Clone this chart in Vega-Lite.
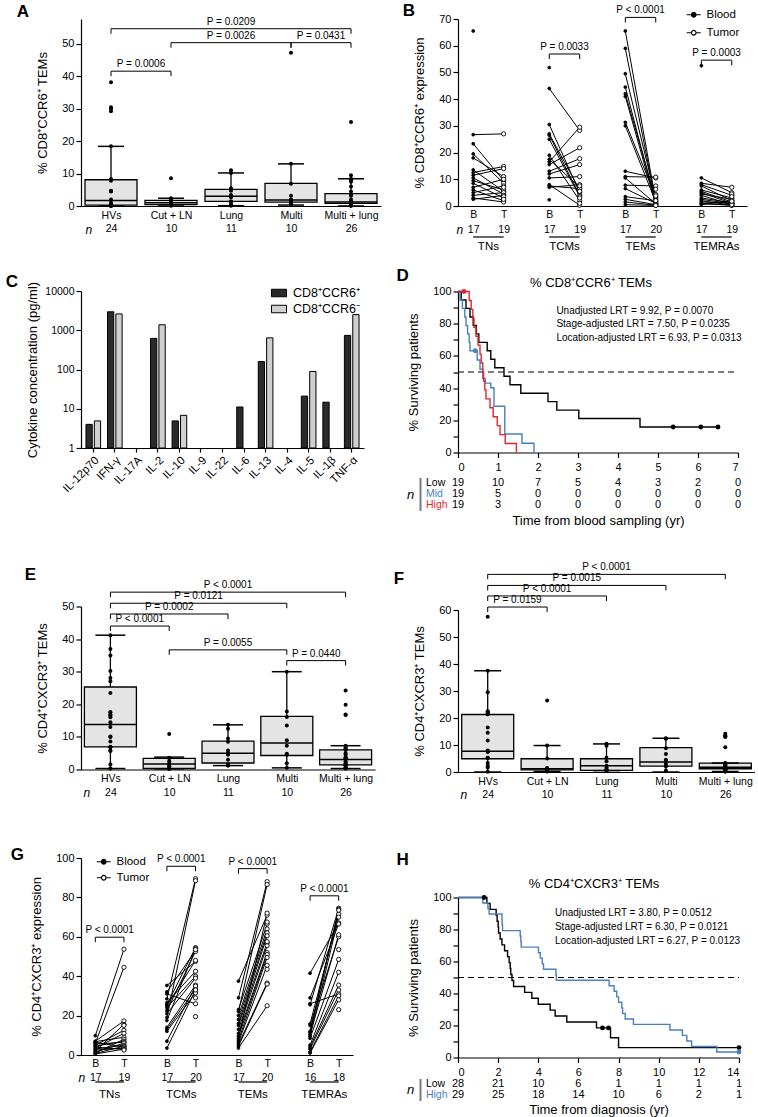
{
"$schema":"https://vega.github.io/schema/vega-lite/v6.json",
"background":"white",
"padding":{"left":5,"top":1,"right":0,"bottom":0},
"config":{
 "font":"Liberation Sans",
 "view":{"stroke":null},
 "axis":{"labelFont":"Liberation Sans","titleFont":"Liberation Sans","labelFontSize":11,"titleFontSize":13,"titleFontWeight":"normal","labelColor":"black","titleColor":"black","domainColor":"black","tickColor":"black","domainWidth":1.2,"tickWidth":1.2,"tickSize":5,"grid":false,"labelPadding":2,"titlePadding":12,"labelOverlap":false},
 "title":{"font":"Liberation Sans","fontSize":17,"fontWeight":"bold","anchor":"start","frame":"bounds","color":"black"},
 "legend":{"labelFont":"Liberation Sans","labelFontSize":11.5,"labelColor":"black"},
 "text":{"font":"Liberation Sans","color":"black"}
},
"datasets":{
 "A_box":[
  {"g":"HVs","lo":0,"q1":0.3,"med":1.7,"q3":8.1,"hi":18.4},
  {"g":"Cut + LN","lo":0,"q1":0.4,"med":1.0,"q3":1.75,"hi":2.4},
  {"g":"Lung","lo":0.1,"q1":1.4,"med":3.0,"q3":5.1,"hi":10.2},
  {"g":"Multi","lo":0.3,"q1":1.2,"med":1.85,"q3":7.0,"hi":13.0},
  {"g":"Multi + lung","lo":0,"q1":0.8,"med":1.2,"q3":3.8,"hi":8.4}],
 "A_pts":[
  {"g":"HVs","v":38.2},{"g":"HVs","v":30.5},{"g":"HVs","v":30.0},{"g":"HVs","v":29.2},{"g":"HVs","v":18.4},{"g":"HVs","v":8.3},{"g":"HVs","v":7.8},{"g":"HVs","v":4.7},{"g":"HVs","v":4.6},{"g":"HVs","v":4.5},{"g":"HVs","v":2.0},{"g":"HVs","v":1.0},{"g":"HVs","v":0.8},{"g":"HVs","v":0.6},{"g":"HVs","v":0.5},{"g":"HVs","v":0.5},{"g":"HVs","v":0.4},{"g":"HVs","v":0.3},{"g":"HVs","v":0.3},{"g":"HVs","v":0.2},{"g":"HVs","v":0.2},{"g":"HVs","v":0.1},{"g":"HVs","v":0.1},{"g":"HVs","v":0},
  {"g":"Cut + LN","v":8.6},{"g":"Cut + LN","v":2.4},{"g":"Cut + LN","v":2.0},{"g":"Cut + LN","v":1.5},{"g":"Cut + LN","v":1.2},{"g":"Cut + LN","v":0.8},{"g":"Cut + LN","v":0.5},{"g":"Cut + LN","v":0.3},{"g":"Cut + LN","v":0.2},{"g":"Cut + LN","v":0.1},
  {"g":"Lung","v":11.0},{"g":"Lung","v":10.2},{"g":"Lung","v":5.5},{"g":"Lung","v":4.7},{"g":"Lung","v":3.4},{"g":"Lung","v":2.7},{"g":"Lung","v":1.5},{"g":"Lung","v":1.2},{"g":"Lung","v":0.5},{"g":"Lung","v":0.3},{"g":"Lung","v":0.1},
  {"g":"Multi","v":47.3},{"g":"Multi","v":13.0},{"g":"Multi","v":6.9},{"g":"Multi","v":3.2},{"g":"Multi","v":2.0},{"g":"Multi","v":1.8},{"g":"Multi","v":1.5},{"g":"Multi","v":1.0},{"g":"Multi","v":0.8},{"g":"Multi","v":0.3},
  {"g":"Multi + lung","v":25.9},{"g":"Multi + lung","v":9.5},{"g":"Multi + lung","v":8.4},{"g":"Multi + lung","v":8.0},{"g":"Multi + lung","v":7.5},{"g":"Multi + lung","v":6.0},{"g":"Multi + lung","v":4.5},{"g":"Multi + lung","v":3.5},{"g":"Multi + lung","v":3.2},{"g":"Multi + lung","v":2.0},{"g":"Multi + lung","v":1.5},{"g":"Multi + lung","v":1.2},{"g":"Multi + lung","v":1.0},{"g":"Multi + lung","v":0.9},{"g":"Multi + lung","v":0.8},{"g":"Multi + lung","v":0.7},{"g":"Multi + lung","v":0.6},{"g":"Multi + lung","v":0.5},{"g":"Multi + lung","v":0.5},{"g":"Multi + lung","v":0.4},{"g":"Multi + lung","v":0.3},{"g":"Multi + lung","v":0.3},{"g":"Multi + lung","v":0.2},{"g":"Multi + lung","v":0.2},{"g":"Multi + lung","v":0.1},{"g":"Multi + lung","v":0.1}],
 "A_br":[
  {"from":"HVs","to":"Multi + lung","mid":"Lung","level":54.7,"label":"P = 0.0209"},
  {"from":"Cut + LN","to":"Multi","mid":"Lung","level":50.4,"label":"P = 0.0026"},
  {"from":"Multi","to":"Multi + lung","mid":"m4","level":50.4,"label":"P = 0.0431"},
  {"from":"HVs","to":"Cut + LN","mid":"m1","level":41.6,"label":"P = 0.0006"}],
 "E_box":[
  {"g":"HVs","lo":0.3,"q1":6.95,"med":13.8,"q3":25.3,"hi":41.2},
  {"g":"Cut + LN","lo":0.2,"q1":0.3,"med":1.7,"q3":3.4,"hi":3.8},
  {"g":"Lung","lo":1.2,"q1":2.0,"med":5.0,"q3":8.7,"hi":13.7},
  {"g":"Multi","lo":0.5,"q1":4.3,"med":8.1,"q3":16.3,"hi":30.0},
  {"g":"Multi + lung","lo":0.3,"q1":1.4,"med":3.1,"q3":6.0,"hi":7.3}],
 "E_pts":[
  {"g":"HVs","v":41.2},{"g":"HVs","v":37.0},{"g":"HVs","v":35.0},{"g":"HVs","v":30.2},{"g":"HVs","v":28.1},{"g":"HVs","v":27.1},{"g":"HVs","v":23.5},{"g":"HVs","v":17.6},{"g":"HVs","v":17.4},{"g":"HVs","v":16.8},{"g":"HVs","v":16.6},{"g":"HVs","v":16.0},{"g":"HVs","v":14.5},{"g":"HVs","v":13.0},{"g":"HVs","v":10.1},{"g":"HVs","v":10.0},{"g":"HVs","v":8.6},{"g":"HVs","v":7.0},{"g":"HVs","v":6.9},{"g":"HVs","v":6.8},{"g":"HVs","v":5.8},{"g":"HVs","v":5.7},{"g":"HVs","v":1.5},{"g":"HVs","v":0.3},
  {"g":"Cut + LN","v":10.9},{"g":"Cut + LN","v":3.6},{"g":"Cut + LN","v":3.5},{"g":"Cut + LN","v":2.5},{"g":"Cut + LN","v":1.8},{"g":"Cut + LN","v":1.5},{"g":"Cut + LN","v":1.0},{"g":"Cut + LN","v":0.3},{"g":"Cut + LN","v":0.3},{"g":"Cut + LN","v":0.2},
  {"g":"Lung","v":13.7},{"g":"Lung","v":12.5},{"g":"Lung","v":9.5},{"g":"Lung","v":8.5},{"g":"Lung","v":5.8},{"g":"Lung","v":5.0},{"g":"Lung","v":4.5},{"g":"Lung","v":3.0},{"g":"Lung","v":1.5},{"g":"Lung","v":1.2},{"g":"Lung","v":1.2},
  {"g":"Multi","v":30.0},{"g":"Multi","v":17.8},{"g":"Multi","v":16.1},{"g":"Multi","v":13.5},{"g":"Multi","v":9.0},{"g":"Multi","v":7.3},{"g":"Multi","v":4.8},{"g":"Multi","v":4.5},{"g":"Multi","v":1.9},{"g":"Multi","v":0.5},
  {"g":"Multi + lung","v":24.2},{"g":"Multi + lung","v":19.9},{"g":"Multi + lung","v":16.9},{"g":"Multi + lung","v":16.7},{"g":"Multi + lung","v":7.3},{"g":"Multi + lung","v":6.9},{"g":"Multi + lung","v":6.5},{"g":"Multi + lung","v":6.2},{"g":"Multi + lung","v":6.0},{"g":"Multi + lung","v":5.0},{"g":"Multi + lung","v":4.5},{"g":"Multi + lung","v":3.8},{"g":"Multi + lung","v":3.6},{"g":"Multi + lung","v":3.5},{"g":"Multi + lung","v":3.3},{"g":"Multi + lung","v":2.5},{"g":"Multi + lung","v":2.0},{"g":"Multi + lung","v":1.7},{"g":"Multi + lung","v":1.5},{"g":"Multi + lung","v":1.4},{"g":"Multi + lung","v":1.3},{"g":"Multi + lung","v":1.2},{"g":"Multi + lung","v":0.8},{"g":"Multi + lung","v":0.5},{"g":"Multi + lung","v":0.4},{"g":"Multi + lung","v":0.3}],
 "E_br":[
  {"from":"HVs","to":"Multi + lung","mid":"Lung","level":54.4,"label":"P < 0.0001"},
  {"from":"HVs","to":"Multi","mid":"m2","level":51.0,"label":"P = 0.0121"},
  {"from":"HVs","to":"Lung","mid":"Cut + LN","level":47.7,"label":"P = 0.0002"},
  {"from":"HVs","to":"Cut + LN","mid":"m1","level":44.0,"label":"P < 0.0001"},
  {"from":"Cut + LN","to":"Multi","mid":"Lung","level":36.7,"label":"P = 0.0055"},
  {"from":"Multi","to":"Multi + lung","mid":"m4","level":33.4,"label":"P = 0.0440"}],
 "F_box":[
  {"g":"HVs","lo":0,"q1":4.9,"med":7.7,"q3":21.3,"hi":37.5},
  {"g":"Cut + LN","lo":0.2,"q1":0.8,"med":1.2,"q3":4.9,"hi":9.8},
  {"g":"Lung","lo":0.5,"q1":0.6,"med":2.3,"q3":4.9,"hi":10.4},
  {"g":"Multi","lo":0,"q1":2.2,"med":3.7,"q3":9.0,"hi":12.5},
  {"g":"Multi + lung","lo":0.2,"q1":1.2,"med":1.8,"q3":3.3,"hi":3.3}],
 "F_pts":[
  {"g":"HVs","v":57.5},{"g":"HVs","v":37.5},{"g":"HVs","v":29.5},{"g":"HVs","v":22.5},{"g":"HVs","v":22.3},{"g":"HVs","v":22.0},{"g":"HVs","v":21.5},{"g":"HVs","v":21.5},{"g":"HVs","v":21.5},{"g":"HVs","v":21.4},{"g":"HVs","v":16.5},{"g":"HVs","v":14.5},{"g":"HVs","v":11.7},{"g":"HVs","v":8.0},{"g":"HVs","v":7.8},{"g":"HVs","v":7.5},{"g":"HVs","v":7.5},{"g":"HVs","v":5.3},{"g":"HVs","v":5.2},{"g":"HVs","v":5.2},{"g":"HVs","v":3.3},{"g":"HVs","v":2.3},{"g":"HVs","v":1.7},{"g":"HVs","v":0.1},
  {"g":"Cut + LN","v":26.5},{"g":"Cut + LN","v":9.8},{"g":"Cut + LN","v":5.0},{"g":"Cut + LN","v":1.5},{"g":"Cut + LN","v":1.3},{"g":"Cut + LN","v":1.2},{"g":"Cut + LN","v":0.8},{"g":"Cut + LN","v":0.5},{"g":"Cut + LN","v":0.3},{"g":"Cut + LN","v":0.2},
  {"g":"Lung","v":10.5},{"g":"Lung","v":9.7},{"g":"Lung","v":5.3},{"g":"Lung","v":4.0},{"g":"Lung","v":2.3},{"g":"Lung","v":1.7},{"g":"Lung","v":1.0},{"g":"Lung","v":0.8},{"g":"Lung","v":0.6},{"g":"Lung","v":0.5},{"g":"Lung","v":0.5},
  {"g":"Multi","v":12.5},{"g":"Multi","v":12.3},{"g":"Multi","v":8.8},{"g":"Multi","v":6.7},{"g":"Multi","v":4.5},{"g":"Multi","v":4.2},{"g":"Multi","v":3.0},{"g":"Multi","v":2.0},{"g":"Multi","v":0.5},{"g":"Multi","v":0.3},
  {"g":"Multi + lung","v":14.2},{"g":"Multi + lung","v":13.5},{"g":"Multi + lung","v":13.2},{"g":"Multi + lung","v":13.0},{"g":"Multi + lung","v":9.2},{"g":"Multi + lung","v":3.3},{"g":"Multi + lung","v":3.2},{"g":"Multi + lung","v":3.0},{"g":"Multi + lung","v":2.8},{"g":"Multi + lung","v":2.5},{"g":"Multi + lung","v":2.0},{"g":"Multi + lung","v":1.8},{"g":"Multi + lung","v":1.5},{"g":"Multi + lung","v":1.5},{"g":"Multi + lung","v":1.2},{"g":"Multi + lung","v":1.0},{"g":"Multi + lung","v":1.0},{"g":"Multi + lung","v":0.8},{"g":"Multi + lung","v":0.8},{"g":"Multi + lung","v":0.7},{"g":"Multi + lung","v":0.5},{"g":"Multi + lung","v":0.5},{"g":"Multi + lung","v":0.3},{"g":"Multi + lung","v":0.3},{"g":"Multi + lung","v":0.2},{"g":"Multi + lung","v":0.2}],
 "F_br":[
  {"from":"HVs","to":"Multi + lung","mid":"Lung","level":73.2,"label":"P < 0.0001"},
  {"from":"HVs","to":"Multi","mid":"m2","level":69.1,"label":"P = 0.0015"},
  {"from":"HVs","to":"Lung","mid":"Cut + LN","level":65.2,"label":"P < 0.0001"},
  {"from":"HVs","to":"Cut + LN","mid":"m1","level":61.1,"label":"P = 0.0159"}],
 "PAIR_grp":[
  {"b":"TNs B","m":"TNs m","t":"TNs T","name":"TNs"},
  {"b":"TCMs B","m":"TCMs m","t":"TCMs T","name":"TCMs"},
  {"b":"TEMs B","m":"TEMs m","t":"TEMs T","name":"TEMs"},
  {"b":"TEMRAs B","m":"TEMRAs m","t":"TEMRAs T","name":"TEMRAs"}],
 "B_br":[
  {"from":"TCMs B","to":"TCMs T","mid":"TCMs m","level":56.9,"label":"P = 0.0033"},
  {"from":"TEMs B","to":"TEMs T","mid":"TEMs m","level":70.6,"label":"P < 0.0001"},
  {"from":"TEMRAs B","to":"TEMRAs T","mid":"TEMRAs m","level":54.6,"label":"P = 0.0003"}],
 "G_br":[
  {"from":"TNs B","to":"TNs T","mid":"TNs m","level":59.8,"label":"P < 0.0001"},
  {"from":"TCMs B","to":"TCMs T","mid":"TCMs m","level":95.8,"label":"P < 0.0001"},
  {"from":"TEMs B","to":"TEMs T","mid":"TEMs m","level":94.6,"label":"P < 0.0001"},
  {"from":"TEMRAs B","to":"TEMRAs T","mid":"TEMRAs m","level":80.8,"label":"P < 0.0001"}],
 "B_pts":[
  {"k":"TNs B","s":"Blood","p":"n1","v":26.7},{"k":"TNs T","s":"Tumor","p":"n1","v":27},
  {"k":"TNs B","s":"Blood","p":"n2","v":23.3},{"k":"TNs T","s":"Tumor","p":"n2","v":9.5},
  {"k":"TNs B","s":"Blood","p":"n3","v":19.5},{"k":"TNs T","s":"Tumor","p":"n3","v":8.5},
  {"k":"TNs B","s":"Blood","p":"n4","v":18},{"k":"TNs T","s":"Tumor","p":"n4","v":11},
  {"k":"TNs B","s":"Blood","p":"n5","v":13.5},{"k":"TNs T","s":"Tumor","p":"n5","v":5.5},
  {"k":"TNs B","s":"Blood","p":"n6","v":12.5},{"k":"TNs T","s":"Tumor","p":"n6","v":14.8},
  {"k":"TNs B","s":"Blood","p":"n7","v":11.5},{"k":"TNs T","s":"Tumor","p":"n7","v":14},
  {"k":"TNs B","s":"Blood","p":"n8","v":10.5},{"k":"TNs T","s":"Tumor","p":"n8","v":4.5},
  {"k":"TNs B","s":"Blood","p":"n9","v":9.5},{"k":"TNs T","s":"Tumor","p":"n9","v":6},
  {"k":"TNs B","s":"Blood","p":"n10","v":8.5},{"k":"TNs T","s":"Tumor","p":"n10","v":3},
  {"k":"TNs B","s":"Blood","p":"n11","v":7},{"k":"TNs T","s":"Tumor","p":"n11","v":10},
  {"k":"TNs B","s":"Blood","p":"n12","v":6},{"k":"TNs T","s":"Tumor","p":"n12","v":2},
  {"k":"TNs B","s":"Blood","p":"n13","v":5},{"k":"TNs T","s":"Tumor","p":"n13","v":7.5},
  {"k":"TNs B","s":"Blood","p":"n14","v":4},{"k":"TNs T","s":"Tumor","p":"n14","v":5},
  {"k":"TNs B","s":"Blood","p":"n15","v":3},{"k":"TNs T","s":"Tumor","p":"n15","v":1.5},
  {"k":"TNs B","s":"Blood","p":"n16","v":2.5},{"k":"TNs T","s":"Tumor","p":"n16","v":4},
  {"k":"TNs B","s":"Blood","p":"n17","v":65.5},{"k":"TNs T","s":"Tumor","p":"n18","v":7},{"k":"TNs T","s":"Tumor","p":"n19","v":3.5},{"k":"TNs T","s":"Tumor","p":"n20","v":2.5},
  {"k":"TCMs B","s":"Blood","p":"c1","v":44},{"k":"TCMs T","s":"Tumor","p":"c1","v":28.3},
  {"k":"TCMs B","s":"Blood","p":"c2","v":30.5},{"k":"TCMs T","s":"Tumor","p":"c2","v":5},
  {"k":"TCMs B","s":"Blood","p":"c3","v":27},{"k":"TCMs T","s":"Tumor","p":"c3","v":6},
  {"k":"TCMs B","s":"Blood","p":"c4","v":26.5},{"k":"TCMs T","s":"Tumor","p":"c4","v":4},
  {"k":"TCMs B","s":"Blood","p":"c5","v":25},{"k":"TCMs T","s":"Tumor","p":"c5","v":3.5},
  {"k":"TCMs B","s":"Blood","p":"c6","v":19},{"k":"TCMs T","s":"Tumor","p":"c6","v":2},
  {"k":"TCMs B","s":"Blood","p":"c7","v":17.5},{"k":"TCMs T","s":"Tumor","p":"c7","v":7},
  {"k":"TCMs B","s":"Blood","p":"c8","v":16.5},{"k":"TCMs T","s":"Tumor","p":"c8","v":29.5},
  {"k":"TCMs B","s":"Blood","p":"c9","v":15.5},{"k":"TCMs T","s":"Tumor","p":"c9","v":21.8},
  {"k":"TCMs B","s":"Blood","p":"c10","v":13},{"k":"TCMs T","s":"Tumor","p":"c10","v":17.7},
  {"k":"TCMs B","s":"Blood","p":"c11","v":12},{"k":"TCMs T","s":"Tumor","p":"c11","v":15.5},
  {"k":"TCMs B","s":"Blood","p":"c12","v":10.5},{"k":"TCMs T","s":"Tumor","p":"c12","v":11},
  {"k":"TCMs B","s":"Blood","p":"c13","v":8},{"k":"TCMs T","s":"Tumor","p":"c13","v":0.3},
  {"k":"TCMs B","s":"Blood","p":"c14","v":7.5},{"k":"TCMs T","s":"Tumor","p":"c14","v":6.5},
  {"k":"TCMs B","s":"Blood","p":"c15","v":7},{"k":"TCMs T","s":"Tumor","p":"c15","v":8},
  {"k":"TCMs B","s":"Blood","p":"c16","v":51.8},{"k":"TCMs B","s":"Blood","p":"c17","v":2.3},{"k":"TCMs T","s":"Tumor","p":"c18","v":7.5},{"k":"TCMs T","s":"Tumor","p":"c19","v":5.5},{"k":"TCMs T","s":"Tumor","p":"c20","v":3},{"k":"TCMs T","s":"Tumor","p":"c21","v":1},
  {"k":"TEMs B","s":"Blood","p":"e1","v":65.5},{"k":"TEMs T","s":"Tumor","p":"e1","v":2},
  {"k":"TEMs B","s":"Blood","p":"e2","v":59},{"k":"TEMs T","s":"Tumor","p":"e2","v":1.5},
  {"k":"TEMs B","s":"Blood","p":"e3","v":49.5},{"k":"TEMs T","s":"Tumor","p":"e3","v":3},
  {"k":"TEMs B","s":"Blood","p":"e4","v":44.5},{"k":"TEMs T","s":"Tumor","p":"e4","v":1},
  {"k":"TEMs B","s":"Blood","p":"e5","v":42},{"k":"TEMs T","s":"Tumor","p":"e5","v":2.5},
  {"k":"TEMs B","s":"Blood","p":"e6","v":41},{"k":"TEMs T","s":"Tumor","p":"e6","v":0.5},
  {"k":"TEMs B","s":"Blood","p":"e7","v":31.3},{"k":"TEMs T","s":"Tumor","p":"e7","v":3.5},
  {"k":"TEMs B","s":"Blood","p":"e8","v":30},{"k":"TEMs T","s":"Tumor","p":"e8","v":1.5},
  {"k":"TEMs B","s":"Blood","p":"e9","v":13},{"k":"TEMs T","s":"Tumor","p":"e9","v":10.5},
  {"k":"TEMs B","s":"Blood","p":"e10","v":11},{"k":"TEMs T","s":"Tumor","p":"e10","v":10.8},
  {"k":"TEMs B","s":"Blood","p":"e11","v":10.5},{"k":"TEMs T","s":"Tumor","p":"e11","v":0.8},
  {"k":"TEMs B","s":"Blood","p":"e12","v":7.8},{"k":"TEMs T","s":"Tumor","p":"e12","v":7.5},
  {"k":"TEMs B","s":"Blood","p":"e13","v":6.5},{"k":"TEMs T","s":"Tumor","p":"e13","v":1},
  {"k":"TEMs B","s":"Blood","p":"e14","v":3.5},{"k":"TEMs T","s":"Tumor","p":"e14","v":2},
  {"k":"TEMs B","s":"Blood","p":"e15","v":2.5},{"k":"TEMs T","s":"Tumor","p":"e15","v":0.5},
  {"k":"TEMs B","s":"Blood","p":"e16","v":1.5},{"k":"TEMs T","s":"Tumor","p":"e16","v":0.3},
  {"k":"TEMs B","s":"Blood","p":"e17","v":0.5},{"k":"TEMs T","s":"Tumor","p":"e17","v":0.2},
  {"k":"TEMs T","s":"Tumor","p":"e18","v":6.3},{"k":"TEMs T","s":"Tumor","p":"e19","v":4.3},{"k":"TEMs T","s":"Tumor","p":"e20","v":3.8},
  {"k":"TEMRAs B","s":"Blood","p":"r1","v":10.5},{"k":"TEMRAs T","s":"Tumor","p":"r1","v":5},
  {"k":"TEMRAs B","s":"Blood","p":"r2","v":8.5},{"k":"TEMRAs T","s":"Tumor","p":"r2","v":7},
  {"k":"TEMRAs B","s":"Blood","p":"r3","v":8},{"k":"TEMRAs T","s":"Tumor","p":"r3","v":4},
  {"k":"TEMRAs B","s":"Blood","p":"r4","v":7.5},{"k":"TEMRAs T","s":"Tumor","p":"r4","v":2},
  {"k":"TEMRAs B","s":"Blood","p":"r5","v":6},{"k":"TEMRAs T","s":"Tumor","p":"r5","v":3},
  {"k":"TEMRAs B","s":"Blood","p":"r6","v":5.5},{"k":"TEMRAs T","s":"Tumor","p":"r6","v":1.5},
  {"k":"TEMRAs B","s":"Blood","p":"r7","v":5},{"k":"TEMRAs T","s":"Tumor","p":"r7","v":1},
  {"k":"TEMRAs B","s":"Blood","p":"r8","v":4.5},{"k":"TEMRAs T","s":"Tumor","p":"r8","v":2.5},
  {"k":"TEMRAs B","s":"Blood","p":"r9","v":4},{"k":"TEMRAs T","s":"Tumor","p":"r9","v":0.5},
  {"k":"TEMRAs B","s":"Blood","p":"r10","v":3},{"k":"TEMRAs T","s":"Tumor","p":"r10","v":1.2},
  {"k":"TEMRAs B","s":"Blood","p":"r11","v":2.5},{"k":"TEMRAs T","s":"Tumor","p":"r11","v":0.8},
  {"k":"TEMRAs B","s":"Blood","p":"r12","v":2},{"k":"TEMRAs T","s":"Tumor","p":"r12","v":0.3},
  {"k":"TEMRAs B","s":"Blood","p":"r13","v":1.5},{"k":"TEMRAs T","s":"Tumor","p":"r13","v":1},
  {"k":"TEMRAs B","s":"Blood","p":"r14","v":1},{"k":"TEMRAs T","s":"Tumor","p":"r14","v":0.2},
  {"k":"TEMRAs B","s":"Blood","p":"r15","v":0.8},{"k":"TEMRAs T","s":"Tumor","p":"r15","v":0.5},
  {"k":"TEMRAs B","s":"Blood","p":"r16","v":0.5},{"k":"TEMRAs T","s":"Tumor","p":"r16","v":2},
  {"k":"TEMRAs B","s":"Blood","p":"r17","v":52.5},{"k":"TEMRAs T","s":"Tumor","p":"r18","v":4.5},{"k":"TEMRAs T","s":"Tumor","p":"r19","v":3.5},{"k":"TEMRAs T","s":"Tumor","p":"r20","v":1.8}],
 "G_pts":[
  {"k":"TNs B","s":"Blood","p":"n1","v":9.8},{"k":"TNs T","s":"Tumor","p":"n1","v":53.7},
  {"k":"TNs B","s":"Blood","p":"n2","v":6.0},{"k":"TNs T","s":"Tumor","p":"n2","v":44.5},
  {"k":"TNs B","s":"Blood","p":"n3","v":7.0},{"k":"TNs T","s":"Tumor","p":"n3","v":17.3},
  {"k":"TNs B","s":"Blood","p":"n4","v":2.0},{"k":"TNs T","s":"Tumor","p":"n4","v":15.5},
  {"k":"TNs B","s":"Blood","p":"n5","v":5.0},{"k":"TNs T","s":"Tumor","p":"n5","v":12.5},
  {"k":"TNs B","s":"Blood","p":"n6","v":3.5},{"k":"TNs T","s":"Tumor","p":"n6","v":11.0},
  {"k":"TNs B","s":"Blood","p":"n7","v":6.8},{"k":"TNs T","s":"Tumor","p":"n7","v":9.0},
  {"k":"TNs B","s":"Blood","p":"n8","v":1.0},{"k":"TNs T","s":"Tumor","p":"n8","v":8.0},
  {"k":"TNs B","s":"Blood","p":"n9","v":4.5},{"k":"TNs T","s":"Tumor","p":"n9","v":7.0},
  {"k":"TNs B","s":"Blood","p":"n10","v":5.5},{"k":"TNs T","s":"Tumor","p":"n10","v":6.5},
  {"k":"TNs B","s":"Blood","p":"n11","v":1.5},{"k":"TNs T","s":"Tumor","p":"n11","v":6.0},
  {"k":"TNs B","s":"Blood","p":"n12","v":3.0},{"k":"TNs T","s":"Tumor","p":"n12","v":5.0},
  {"k":"TNs B","s":"Blood","p":"n13","v":0.8},{"k":"TNs T","s":"Tumor","p":"n13","v":4.5},
  {"k":"TNs B","s":"Blood","p":"n14","v":6.5},{"k":"TNs T","s":"Tumor","p":"n14","v":4.0},
  {"k":"TNs B","s":"Blood","p":"n15","v":2.5},{"k":"TNs T","s":"Tumor","p":"n15","v":3.5},
  {"k":"TNs B","s":"Blood","p":"n16","v":0.5},{"k":"TNs T","s":"Tumor","p":"n16","v":3.0},
  {"k":"TNs B","s":"Blood","p":"n17","v":4.0},{"k":"TNs T","s":"Tumor","p":"n17","v":2.8},
  {"k":"TNs T","s":"Tumor","p":"n18","v":15.0},{"k":"TNs T","s":"Tumor","p":"n19","v":2.5},
  {"k":"TCMs B","s":"Blood","p":"c1","v":28.5},{"k":"TCMs T","s":"Tumor","p":"c1","v":89.5},
  {"k":"TCMs B","s":"Blood","p":"c2","v":19},{"k":"TCMs T","s":"Tumor","p":"c2","v":88.5},
  {"k":"TCMs B","s":"Blood","p":"c3","v":32},{"k":"TCMs T","s":"Tumor","p":"c3","v":53},
  {"k":"TCMs B","s":"Blood","p":"c4","v":25.5},{"k":"TCMs T","s":"Tumor","p":"c4","v":54.5},
  {"k":"TCMs B","s":"Blood","p":"c5","v":35.3},{"k":"TCMs T","s":"Tumor","p":"c5","v":47.5},
  {"k":"TCMs B","s":"Blood","p":"c6","v":22.5},{"k":"TCMs T","s":"Tumor","p":"c6","v":52.5},
  {"k":"TCMs B","s":"Blood","p":"c7","v":26.5},{"k":"TCMs T","s":"Tumor","p":"c7","v":42.5},
  {"k":"TCMs B","s":"Blood","p":"c8","v":24},{"k":"TCMs T","s":"Tumor","p":"c8","v":40},
  {"k":"TCMs B","s":"Blood","p":"c9","v":21},{"k":"TCMs T","s":"Tumor","p":"c9","v":39},
  {"k":"TCMs B","s":"Blood","p":"c10","v":17.5},{"k":"TCMs T","s":"Tumor","p":"c10","v":54},
  {"k":"TCMs B","s":"Blood","p":"c11","v":14},{"k":"TCMs T","s":"Tumor","p":"c11","v":35.5},
  {"k":"TCMs B","s":"Blood","p":"c12","v":13},{"k":"TCMs T","s":"Tumor","p":"c12","v":33.5},
  {"k":"TCMs B","s":"Blood","p":"c13","v":12},{"k":"TCMs T","s":"Tumor","p":"c13","v":31.5},
  {"k":"TCMs B","s":"Blood","p":"c14","v":31},{"k":"TCMs T","s":"Tumor","p":"c14","v":26},
  {"k":"TCMs B","s":"Blood","p":"c15","v":7},{"k":"TCMs T","s":"Tumor","p":"c15","v":35},
  {"k":"TCMs B","s":"Blood","p":"c16","v":3.5},{"k":"TCMs T","s":"Tumor","p":"c16","v":33},
  {"k":"TCMs B","s":"Blood","p":"c17","v":25},{"k":"TCMs T","s":"Tumor","p":"c17","v":48},
  {"k":"TCMs T","s":"Tumor","p":"c18","v":29},{"k":"TCMs T","s":"Tumor","p":"c19","v":19.5},{"k":"TCMs T","s":"Tumor","p":"c20","v":53.5},
  {"k":"TEMs B","s":"Blood","p":"e1","v":29},{"k":"TEMs T","s":"Tumor","p":"e1","v":88},
  {"k":"TEMs B","s":"Blood","p":"e2","v":37.5},{"k":"TEMs T","s":"Tumor","p":"e2","v":71},
  {"k":"TEMs B","s":"Blood","p":"e3","v":22},{"k":"TEMs T","s":"Tumor","p":"e3","v":86.5},
  {"k":"TEMs B","s":"Blood","p":"e4","v":23},{"k":"TEMs T","s":"Tumor","p":"e4","v":66.5},
  {"k":"TEMs B","s":"Blood","p":"e5","v":20},{"k":"TEMs T","s":"Tumor","p":"e5","v":64},
  {"k":"TEMs B","s":"Blood","p":"e6","v":18},{"k":"TEMs T","s":"Tumor","p":"e6","v":62},
  {"k":"TEMs B","s":"Blood","p":"e7","v":16},{"k":"TEMs T","s":"Tumor","p":"e7","v":60.5},
  {"k":"TEMs B","s":"Blood","p":"e8","v":15},{"k":"TEMs T","s":"Tumor","p":"e8","v":57},
  {"k":"TEMs B","s":"Blood","p":"e9","v":13},{"k":"TEMs T","s":"Tumor","p":"e9","v":55.5},
  {"k":"TEMs B","s":"Blood","p":"e10","v":11},{"k":"TEMs T","s":"Tumor","p":"e10","v":52},
  {"k":"TEMs B","s":"Blood","p":"e11","v":9.5},{"k":"TEMs T","s":"Tumor","p":"e11","v":51},
  {"k":"TEMs B","s":"Blood","p":"e12","v":8.5},{"k":"TEMs T","s":"Tumor","p":"e12","v":72},
  {"k":"TEMs B","s":"Blood","p":"e13","v":7.5},{"k":"TEMs T","s":"Tumor","p":"e13","v":49.5},
  {"k":"TEMs B","s":"Blood","p":"e14","v":6.5},{"k":"TEMs T","s":"Tumor","p":"e14","v":45.5},
  {"k":"TEMs B","s":"Blood","p":"e15","v":5.5},{"k":"TEMs T","s":"Tumor","p":"e15","v":36.5},
  {"k":"TEMs B","s":"Blood","p":"e16","v":4.5},{"k":"TEMs T","s":"Tumor","p":"e16","v":36},
  {"k":"TEMs B","s":"Blood","p":"e17","v":3.5},{"k":"TEMs T","s":"Tumor","p":"e17","v":25},
  {"k":"TEMs T","s":"Tumor","p":"e18","v":67.5},{"k":"TEMs T","s":"Tumor","p":"e19","v":57.5},{"k":"TEMs T","s":"Tumor","p":"e20","v":43.5},
  {"k":"TEMRAs B","s":"Blood","p":"r1","v":41.5},{"k":"TEMRAs T","s":"Tumor","p":"r1","v":67},
  {"k":"TEMRAs B","s":"Blood","p":"r2","v":29},{"k":"TEMRAs T","s":"Tumor","p":"r2","v":66.5},
  {"k":"TEMRAs B","s":"Blood","p":"r3","v":26},{"k":"TEMRAs T","s":"Tumor","p":"r3","v":31},
  {"k":"TEMRAs B","s":"Blood","p":"r4","v":25.5},{"k":"TEMRAs T","s":"Tumor","p":"r4","v":74.5},
  {"k":"TEMRAs B","s":"Blood","p":"r5","v":15.8},{"k":"TEMRAs T","s":"Tumor","p":"r5","v":71.5},
  {"k":"TEMRAs B","s":"Blood","p":"r6","v":15},{"k":"TEMRAs T","s":"Tumor","p":"r6","v":60},
  {"k":"TEMRAs B","s":"Blood","p":"r7","v":12},{"k":"TEMRAs T","s":"Tumor","p":"r7","v":74},
  {"k":"TEMRAs B","s":"Blood","p":"r8","v":11.5},{"k":"TEMRAs T","s":"Tumor","p":"r8","v":73.5},
  {"k":"TEMRAs B","s":"Blood","p":"r9","v":10.5},{"k":"TEMRAs T","s":"Tumor","p":"r9","v":61},
  {"k":"TEMRAs B","s":"Blood","p":"r10","v":9.5},{"k":"TEMRAs T","s":"Tumor","p":"r10","v":70},
  {"k":"TEMRAs B","s":"Blood","p":"r11","v":8.5},{"k":"TEMRAs T","s":"Tumor","p":"r11","v":48.5},
  {"k":"TEMRAs B","s":"Blood","p":"r12","v":5},{"k":"TEMRAs T","s":"Tumor","p":"r12","v":42},
  {"k":"TEMRAs B","s":"Blood","p":"r13","v":4},{"k":"TEMRAs T","s":"Tumor","p":"r13","v":35.5},
  {"k":"TEMRAs B","s":"Blood","p":"r14","v":3},{"k":"TEMRAs T","s":"Tumor","p":"r14","v":33},
  {"k":"TEMRAs B","s":"Blood","p":"r15","v":1.5},{"k":"TEMRAs T","s":"Tumor","p":"r15","v":30},
  {"k":"TEMRAs B","s":"Blood","p":"r16","v":1},{"k":"TEMRAs T","s":"Tumor","p":"r16","v":28},
  {"k":"TEMRAs T","s":"Tumor","p":"r17","v":53.5},{"k":"TEMRAs T","s":"Tumor","p":"r18","v":23}],
 "C_cyt":[
  {"c":"IL-12p70","t":"CD8⁺CCR6⁺","v":4.0},{"c":"IL-12p70","t":"CD8⁺CCR6⁻","v":4.9},
  {"c":"IFN-γ","t":"CD8⁺CCR6⁺","v":2950},{"c":"IFN-γ","t":"CD8⁺CCR6⁻","v":2600},
  {"c":"IL-2","t":"CD8⁺CCR6⁺","v":620},{"c":"IL-2","t":"CD8⁺CCR6⁻","v":1380},
  {"c":"IL-10","t":"CD8⁺CCR6⁺","v":4.9},{"c":"IL-10","t":"CD8⁺CCR6⁻","v":6.8},
  {"c":"IL-6","t":"CD8⁺CCR6⁺","v":11.1},
  {"c":"IL-13","t":"CD8⁺CCR6⁺","v":160},{"c":"IL-13","t":"CD8⁺CCR6⁻","v":640},
  {"c":"IL-5","t":"CD8⁺CCR6⁺","v":21},{"c":"IL-5","t":"CD8⁺CCR6⁻","v":89},
  {"c":"IL-1β","t":"CD8⁺CCR6⁺","v":14.7},
  {"c":"TNF-α","t":"CD8⁺CCR6⁺","v":740},{"c":"TNF-α","t":"CD8⁺CCR6⁻","v":2500}],
 "D_km":[
  {"g":"Low","t":0,"s":100},{"g":"Low","t":0.08,"s":94.7},{"g":"Low","t":0.2,"s":89.5},{"g":"Low","t":0.3,"s":84.2},{"g":"Low","t":0.38,"s":78.9},{"g":"Low","t":0.46,"s":73.7},{"g":"Low","t":0.52,"s":68.4},{"g":"Low","t":0.73,"s":63.2},{"g":"Low","t":0.82,"s":57.9},{"g":"Low","t":0.92,"s":52.6},{"g":"Low","t":1.15,"s":47.4},{"g":"Low","t":1.3,"s":42.1},{"g":"Low","t":1.57,"s":36.8},{"g":"Low","t":2.25,"s":31.6},{"g":"Low","t":2.47,"s":26.3},{"g":"Low","t":3.02,"s":21.1},{"g":"Low","t":4.55,"s":15.8},{"g":"Low","t":6.5,"s":15.8},
  {"g":"Mid","t":0,"s":100},{"g":"Mid","t":0.05,"s":94.7},{"g":"Mid","t":0.11,"s":89.5},{"g":"Mid","t":0.17,"s":84.2},{"g":"Mid","t":0.2,"s":78.9},{"g":"Mid","t":0.24,"s":73.7},{"g":"Mid","t":0.28,"s":68.4},{"g":"Mid","t":0.3,"s":63.2},{"g":"Mid","t":0.48,"s":57.5},{"g":"Mid","t":0.55,"s":51.7},{"g":"Mid","t":0.62,"s":46.0},{"g":"Mid","t":0.68,"s":43.1},{"g":"Mid","t":0.82,"s":40.2},{"g":"Mid","t":0.9,"s":28.7},{"g":"Mid","t":1.17,"s":11.5},{"g":"Mid","t":1.6,"s":5.7},{"g":"Mid","t":1.9,"s":0},
  {"g":"High","t":0,"s":100},{"g":"High","t":0.28,"s":94.4},{"g":"High","t":0.33,"s":88.9},{"g":"High","t":0.37,"s":83.3},{"g":"High","t":0.4,"s":77.8},{"g":"High","t":0.45,"s":72.2},{"g":"High","t":0.5,"s":66.7},{"g":"High","t":0.55,"s":61.1},{"g":"High","t":0.58,"s":55.6},{"g":"High","t":0.62,"s":50},{"g":"High","t":0.64,"s":44.4},{"g":"High","t":0.67,"s":38.9},{"g":"High","t":0.7,"s":33.3},{"g":"High","t":0.8,"s":27.8},{"g":"High","t":0.88,"s":22.2},{"g":"High","t":0.98,"s":16.7},{"g":"High","t":1.05,"s":11.1},{"g":"High","t":1.18,"s":5.6},{"g":"High","t":1.46,"s":0}],
 "D_cens":[
  {"g":"Low","t":5.38,"s":15.8},{"g":"Low","t":6.07,"s":15.8},{"g":"Low","t":6.5,"s":15.8},{"g":"Mid","t":0.43,"s":63.2},{"g":"High","t":0.15,"s":100}],
 "D_risk":[
  {"g":"Low","t":0,"n":19},{"g":"Low","t":1,"n":10},{"g":"Low","t":2,"n":7},{"g":"Low","t":3,"n":5},{"g":"Low","t":4,"n":4},{"g":"Low","t":5,"n":3},{"g":"Low","t":6,"n":2},{"g":"Low","t":7,"n":0},
  {"g":"Mid","t":0,"n":19},{"g":"Mid","t":1,"n":5},{"g":"Mid","t":2,"n":0},{"g":"Mid","t":3,"n":0},{"g":"Mid","t":4,"n":0},{"g":"Mid","t":5,"n":0},{"g":"Mid","t":6,"n":0},{"g":"Mid","t":7,"n":0},
  {"g":"High","t":0,"n":19},{"g":"High","t":1,"n":3},{"g":"High","t":2,"n":0},{"g":"High","t":3,"n":0},{"g":"High","t":4,"n":0},{"g":"High","t":5,"n":0},{"g":"High","t":6,"n":0},{"g":"High","t":7,"n":0}],
 "H_km":[
  {"g":"Low","t":0,"s":100},{"g":"Low","t":1.44,"s":96.3},{"g":"Low","t":1.6,"s":92.6},{"g":"Low","t":1.9,"s":88.9},{"g":"Low","t":1.95,"s":85.2},{"g":"Low","t":2.0,"s":81.5},{"g":"Low","t":2.02,"s":77.8},{"g":"Low","t":2.1,"s":74.1},{"g":"Low","t":2.19,"s":70.4},{"g":"Low","t":2.32,"s":66.7},{"g":"Low","t":2.47,"s":63.0},{"g":"Low","t":2.55,"s":59.3},{"g":"Low","t":2.6,"s":55.6},{"g":"Low","t":2.63,"s":51.9},{"g":"Low","t":2.69,"s":48.1},{"g":"Low","t":2.77,"s":44.4},{"g":"Low","t":3.32,"s":40.7},{"g":"Low","t":3.68,"s":37.0},{"g":"Low","t":4.0,"s":33.3},{"g":"Low","t":4.59,"s":29.6},{"g":"Low","t":4.84,"s":25.9},{"g":"Low","t":5.42,"s":22.2},{"g":"Low","t":6.9,"s":18.5},{"g":"Low","t":7.6,"s":12.3},{"g":"Low","t":8.0,"s":6.2},{"g":"Low","t":14,"s":6.2},
  {"g":"High","t":0,"s":100},{"g":"High","t":1.24,"s":96.6},{"g":"High","t":1.49,"s":93.1},{"g":"High","t":1.55,"s":89.7},{"g":"High","t":2.19,"s":86.2},{"g":"High","t":2.2,"s":82.8},{"g":"High","t":2.22,"s":79.3},{"g":"High","t":3.1,"s":75.9},{"g":"High","t":3.13,"s":72.4},{"g":"High","t":3.15,"s":69.0},{"g":"High","t":4.01,"s":65.5},{"g":"High","t":4.1,"s":62.1},{"g":"High","t":4.2,"s":58.6},{"g":"High","t":4.26,"s":55.2},{"g":"High","t":4.88,"s":51.7},{"g":"High","t":4.9,"s":48.3},{"g":"High","t":7.53,"s":44.8},{"g":"High","t":7.78,"s":41.4},{"g":"High","t":7.91,"s":37.9},{"g":"High","t":8.0,"s":34.5},{"g":"High","t":8.16,"s":31.0},{"g":"High","t":8.2,"s":27.6},{"g":"High","t":8.33,"s":24.1},{"g":"High","t":8.74,"s":20.7},{"g":"High","t":10.56,"s":17.2},{"g":"High","t":11.18,"s":13.8},{"g":"High","t":11.4,"s":10.3},{"g":"High","t":11.64,"s":6.9},{"g":"High","t":12.89,"s":3.4},{"g":"High","t":14,"s":3.4}],
 "H_cens":[
  {"g":"Low","t":1.3,"s":100},{"g":"Low","t":7.2,"s":18.5},{"g":"Low","t":7.5,"s":18.5},{"g":"Low","t":14,"s":6.2},{"g":"High","t":14,"s":3.4}],
 "H_risk":[
  {"g":"Low","t":0,"n":28},{"g":"Low","t":2,"n":21},{"g":"Low","t":4,"n":10},{"g":"Low","t":6,"n":6},{"g":"Low","t":8,"n":1},{"g":"Low","t":10,"n":1},{"g":"Low","t":12,"n":1},{"g":"Low","t":14,"n":1},
  {"g":"High","t":0,"n":29},{"g":"High","t":2,"n":25},{"g":"High","t":4,"n":18},{"g":"High","t":6,"n":14},{"g":"High","t":8,"n":10},{"g":"High","t":10,"n":6},{"g":"High","t":12,"n":2},{"g":"High","t":14,"n":1}]
},
"resolve":{"scale":{"color":"independent","fill":"independent","size":"independent"},"legend":{"color":"independent","fill":"independent","size":"independent"}},
"spacing":12,
"hconcat":[
 {"resolve":{"scale":{"color":"independent","fill":"independent","size":"independent"},"legend":{"color":"independent","fill":"independent","size":"independent"}},
  "spacing":70.5,
  "vconcat":[
  {"resolve":{"scale":{"color":"independent","fill":"independent","size":"independent"},"legend":{"color":"independent","fill":"independent","size":"independent"}},
   "spacing":37,
   "vconcat":[
   {"title":{"text":"A","dx":-20,"offset":-4},
    "width":300,"height":187,
    "layer":[
     {"data":{"name":"A_box"},"mark":{"type":"rule","color":"black","strokeWidth":1.3},
      "encoding":{
       "x":{"field":"g","type":"nominal","scale":{"type":"point","domain":["HVs","m1","Cut + LN","m2","Lung","m3","Multi","m4","Multi + lung"],"padding":1.16},
        "axis":{"title":"n","titleFontStyle":"italic","titleFontSize":12,"titleAngle":0,"titleX":4,"titleY":23,"titleAlign":"left","titleBaseline":"middle","ticks":false,"labelAngle":0,"labelFontSize":10.5,"labelPadding":4,"labelLineHeight":13,"labelBaseline":"top","labelFlush":false,"labelBound":false,"labelOverlap":false,
         "labelExpr":"datum.value == 'HVs' ? ['HVs', '24'] : datum.value == 'Cut + LN' ? ['Cut + LN', '10'] : datum.value == 'Lung' ? ['Lung', '11'] : datum.value == 'Multi' ? ['Multi', '10'] : datum.value == 'Multi + lung' ? ['Multi + lung', '26'] : ''"}},
       "y":{"field":"lo","type":"quantitative","scale":{"domain":[0,57.7],"nice":false},"axis":{"title":"% CD8⁺CCR6⁺ TEMs","values":[0,10,20,30,40,50],"labelOverlap":false}},
       "y2":{"field":"hi"}}},
     {"data":{"name":"A_box"},"mark":{"type":"bar","width":52,"fill":"#e4e4e4","stroke":"black","strokeWidth":1.3},
      "encoding":{"x":{"field":"g","type":"nominal","scale":{"type":"point","domain":["HVs","m1","Cut + LN","m2","Lung","m3","Multi","m4","Multi + lung"]}},
       "y":{"field":"q1","type":"quantitative","scale":{"domain":[0,57.7]},"axis":{"title":"% CD8⁺CCR6⁺ TEMs","values":[0,10,20,30,40,50],"labelOverlap":false}},"y2":{"field":"q3"}}},
     {"data":{"name":"A_box"},"mark":{"type":"tick","size":52,"thickness":1.5,"color":"black","opacity":1},
      "encoding":{"x":{"field":"g","type":"nominal","scale":{"type":"point","domain":["HVs","m1","Cut + LN","m2","Lung","m3","Multi","m4","Multi + lung"]}},
       "y":{"field":"med","type":"quantitative","scale":{"domain":[0,57.7]},"axis":{"title":"% CD8⁺CCR6⁺ TEMs","values":[0,10,20,30,40,50],"labelOverlap":false}}}},
     {"data":{"name":"A_box"},"transform":[{"fold":["lo","hi"],"as":["end","val"]}],"mark":{"type":"tick","size":26,"thickness":1.5,"color":"black","opacity":1},
      "encoding":{"x":{"field":"g","type":"nominal","scale":{"type":"point","domain":["HVs","m1","Cut + LN","m2","Lung","m3","Multi","m4","Multi + lung"]}},
       "y":{"field":"val","type":"quantitative","scale":{"domain":[0,57.7]},"axis":{"title":"% CD8⁺CCR6⁺ TEMs","values":[0,10,20,30,40,50],"labelOverlap":false}}}},
     {"data":{"name":"A_pts"},"mark":{"type":"circle","size":16,"color":"black","opacity":1},
      "encoding":{"x":{"field":"g","type":"nominal","scale":{"type":"point","domain":["HVs","m1","Cut + LN","m2","Lung","m3","Multi","m4","Multi + lung"]}},
       "y":{"field":"v","type":"quantitative","scale":{"domain":[0,57.7]},"axis":{"title":"% CD8⁺CCR6⁺ TEMs","values":[0,10,20,30,40,50],"labelOverlap":false}}}},
     {"data":{"name":"A_br"},"mark":{"type":"rule","color":"black","strokeWidth":1},
      "encoding":{"x":{"field":"from","type":"nominal","scale":{"type":"point","domain":["HVs","m1","Cut + LN","m2","Lung","m3","Multi","m4","Multi + lung"]}},"x2":{"field":"to"},
       "y":{"field":"level","type":"quantitative","scale":{"domain":[0,57.7]},"axis":{"title":"% CD8⁺CCR6⁺ TEMs","values":[0,10,20,30,40,50],"labelOverlap":false}}}},
     {"data":{"name":"A_br"},"transform":[{"fold":["from","to"],"as":["end","gg"]}],"mark":{"type":"tick","orient":"vertical","size":5,"thickness":1,"yOffset":2.5,"color":"black","opacity":1},
      "encoding":{"x":{"field":"gg","type":"nominal","scale":{"type":"point","domain":["HVs","m1","Cut + LN","m2","Lung","m3","Multi","m4","Multi + lung"]}},
       "y":{"field":"level","type":"quantitative","scale":{"domain":[0,57.7]},"axis":{"title":"% CD8⁺CCR6⁺ TEMs","values":[0,10,20,30,40,50],"labelOverlap":false}}}},
     {"data":{"name":"A_br"},"mark":{"type":"text","fontSize":10,"baseline":"bottom","dy":-2},
      "encoding":{"x":{"field":"mid","type":"nominal","scale":{"type":"point","domain":["HVs","m1","Cut + LN","m2","Lung","m3","Multi","m4","Multi + lung"]}},
       "y":{"field":"level","type":"quantitative","scale":{"domain":[0,57.7]},"axis":{"title":"% CD8⁺CCR6⁺ TEMs","values":[0,10,20,30,40,50],"labelOverlap":false}},"text":{"field":"label"}}}
    ]},
   {"title":{"text":"C","dx":-21,"offset":-9.5},
    "width":283,"height":157,
    "data":{"name":"C_cyt"},
    "mark":{"type":"bar","stroke":"black","strokeWidth":1},
    "encoding":{
     "x":{"field":"c","type":"nominal","scale":{"domain":["IL-12p70","IFN-γ","IL-17A","IL-2","IL-10","IL-9","IL-22","IL-6","IL-13","IL-4","IL-5","IL-1β","TNF-α"],"paddingInner":0.32,"paddingOuter":0.23},
      "axis":{"title":null,"labelAngle":-45,"ticks":true,"tickSize":4,"labelFontSize":11.5,"labelPadding":2,"labelOverlap":false}},
     "xOffset":{"field":"t","type":"nominal","scale":{"domain":["CD8⁺CCR6⁺","CD8⁺CCR6⁻"],"paddingInner":0.25}},
     "y":{"field":"v","type":"quantitative","scale":{"type":"log","domain":[1,10000],"nice":false},"axis":{"title":"Cytokine concentration (pg/ml)","values":[1,10,100,1000,10000],"format":"d","titlePadding":5,"labelFontSize":10.5,"labelOverlap":false}},
     "y2":{"datum":1},
     "fill":{"field":"t","type":"nominal","scale":{"domain":["CD8⁺CCR6⁺","CD8⁺CCR6⁻"],"range":["#2b2b2b","#d0d0d0"]},
      "legend":{"title":null,"orient":"none","legendX":190,"legendY":-6,"padding":0,"symbolType":"M-1,-0.5H1V0.5H-1Z","symbolSize":225,"symbolStrokeColor":"black","symbolStrokeWidth":1,"labelFontSize":12.5,"labelOffset":6,"rowPadding":1}}}}
  ]},
  {"resolve":{"scale":{"color":"independent","fill":"independent","size":"independent"},"legend":{"color":"independent","fill":"independent","size":"independent"}},
   "spacing":46.5,
   "vconcat":[
   {"title":{"text":"E","dx":-12,"offset":-3.5},
    "width":294,"height":163,
    "layer":[
     {"data":{"name":"E_box"},"mark":{"type":"rule","color":"black","strokeWidth":1.3},
      "encoding":{
       "x":{"field":"g","type":"nominal","scale":{"type":"point","domain":["HVs","m1","Cut + LN","m2","Lung","m3","Multi","m4","Multi + lung"],"padding":1.0},
        "axis":{"title":"n","titleFontStyle":"italic","titleFontSize":12,"titleAngle":0,"titleX":2,"titleY":23,"titleAlign":"left","titleBaseline":"middle","ticks":false,"labelAngle":0,"labelFontSize":10.5,"labelPadding":4,"labelLineHeight":14,"labelBaseline":"top","labelFlush":false,"labelBound":false,"labelOverlap":false,
         "labelExpr":"datum.value == 'HVs' ? ['HVs', '24'] : datum.value == 'Cut + LN' ? ['Cut + LN', '10'] : datum.value == 'Lung' ? ['Lung', '11'] : datum.value == 'Multi' ? ['Multi', '10'] : datum.value == 'Multi + lung' ? ['Multi + lung', '26'] : ''"}},
       "y":{"field":"lo","type":"quantitative","scale":{"domain":[0,50],"nice":false},"axis":{"title":"% CD4⁺CXCR3⁺ TEMs","values":[0,10,20,30,40,50],"labelOverlap":false}},
       "y2":{"field":"hi"}}},
     {"data":{"name":"E_box"},"mark":{"type":"bar","width":52,"fill":"#e4e4e4","stroke":"black","strokeWidth":1.3},
      "encoding":{"x":{"field":"g","type":"nominal","scale":{"type":"point","domain":["HVs","m1","Cut + LN","m2","Lung","m3","Multi","m4","Multi + lung"]}},
       "y":{"field":"q1","type":"quantitative","scale":{"domain":[0,50]},"axis":{"title":"% CD4⁺CXCR3⁺ TEMs","values":[0,10,20,30,40,50],"labelOverlap":false}},"y2":{"field":"q3"}}},
     {"data":{"name":"E_box"},"mark":{"type":"tick","size":52,"thickness":1.5,"color":"black","opacity":1},
      "encoding":{"x":{"field":"g","type":"nominal","scale":{"type":"point","domain":["HVs","m1","Cut + LN","m2","Lung","m3","Multi","m4","Multi + lung"]}},
       "y":{"field":"med","type":"quantitative","scale":{"domain":[0,50]},"axis":{"title":"% CD4⁺CXCR3⁺ TEMs","values":[0,10,20,30,40,50],"labelOverlap":false}}}},
     {"data":{"name":"E_box"},"transform":[{"fold":["lo","hi"],"as":["end","val"]}],"mark":{"type":"tick","size":30,"thickness":1.5,"color":"black","opacity":1},
      "encoding":{"x":{"field":"g","type":"nominal","scale":{"type":"point","domain":["HVs","m1","Cut + LN","m2","Lung","m3","Multi","m4","Multi + lung"]}},
       "y":{"field":"val","type":"quantitative","scale":{"domain":[0,50]},"axis":{"title":"% CD4⁺CXCR3⁺ TEMs","values":[0,10,20,30,40,50],"labelOverlap":false}}}},
     {"data":{"name":"E_pts"},"mark":{"type":"circle","size":16,"color":"black","opacity":1},
      "encoding":{"x":{"field":"g","type":"nominal","scale":{"type":"point","domain":["HVs","m1","Cut + LN","m2","Lung","m3","Multi","m4","Multi + lung"]}},
       "y":{"field":"v","type":"quantitative","scale":{"domain":[0,50]},"axis":{"title":"% CD4⁺CXCR3⁺ TEMs","values":[0,10,20,30,40,50],"labelOverlap":false}}}},
     {"data":{"name":"E_br"},"mark":{"type":"rule","color":"black","strokeWidth":1},
      "encoding":{"x":{"field":"from","type":"nominal","scale":{"type":"point","domain":["HVs","m1","Cut + LN","m2","Lung","m3","Multi","m4","Multi + lung"]}},"x2":{"field":"to"},
       "y":{"field":"level","type":"quantitative","scale":{"domain":[0,50]},"axis":{"title":"% CD4⁺CXCR3⁺ TEMs","values":[0,10,20,30,40,50],"labelOverlap":false}}}},
     {"data":{"name":"E_br"},"transform":[{"fold":["from","to"],"as":["end","gg"]}],"mark":{"type":"tick","orient":"vertical","size":5,"thickness":1,"yOffset":2.5,"color":"black","opacity":1},
      "encoding":{"x":{"field":"gg","type":"nominal","scale":{"type":"point","domain":["HVs","m1","Cut + LN","m2","Lung","m3","Multi","m4","Multi + lung"]}},
       "y":{"field":"level","type":"quantitative","scale":{"domain":[0,50]},"axis":{"title":"% CD4⁺CXCR3⁺ TEMs","values":[0,10,20,30,40,50],"labelOverlap":false}}}},
     {"data":{"name":"E_br"},"mark":{"type":"text","fontSize":10,"baseline":"bottom","dy":-2},
      "encoding":{"x":{"field":"mid","type":"nominal","scale":{"type":"point","domain":["HVs","m1","Cut + LN","m2","Lung","m3","Multi","m4","Multi + lung"]}},
       "y":{"field":"level","type":"quantitative","scale":{"domain":[0,50]},"axis":{"title":"% CD4⁺CXCR3⁺ TEMs","values":[0,10,20,30,40,50],"labelOverlap":false}},"text":{"field":"label"}}}
    ]},
   {"title":{"text":"G","dx":-20,"offset":-11.5},
    "width":272,"height":197,
    "layer":[
     {"data":{"name":"G_pts"},"mark":{"type":"line","color":"black","strokeWidth":1},
      "encoding":{
       "x":{"field":"k","type":"nominal","scale":{"type":"point","domain":["TNs B","TNs m","TNs T","s1","s2","TCMs B","TCMs m","TCMs T","s3","s4","TEMs B","TEMs m","TEMs T","s5","s6","TEMRAs B","TEMRAs m","TEMRAs T"],"padding":1.5},
        "axis":{"title":"n","titleFontStyle":"italic","titleFontSize":12,"titleAngle":0,"titleX":-3,"titleY":22,"titleAlign":"left","titleBaseline":"middle","ticks":false,"labelAngle":0,"labelFontSize":10.5,"labelPadding":3,"labelLineHeight":14,"labelBaseline":"top","labelFlush":false,"labelBound":false,"labelOverlap":false,
         "labelExpr":"datum.value == 'TEMRAs B' ? ['B', '16'] : indexof(datum.value, ' B') > 0 ? ['B', '17'] : datum.value == 'TNs T' ? ['T', '19'] : datum.value == 'TEMRAs T' ? ['T', '18'] : indexof(datum.value, ' T') > 0 ? ['T', '20'] : ''"}},
       "y":{"field":"v","type":"quantitative","scale":{"domain":[0,100],"nice":false},"axis":{"title":"% CD4⁺CXCR3⁺ expression","values":[0,20,40,60,80,100],"labelOverlap":false}},
       "detail":{"field":"p"}}},
     {"data":{"name":"G_pts"},"mark":{"type":"point","shape":"circle","filled":true,"stroke":"black","strokeWidth":0.9,"opacity":1},
      "encoding":{
       "x":{"field":"k","type":"nominal","scale":{"type":"point","domain":["TNs B","TNs m","TNs T","s1","s2","TCMs B","TCMs m","TCMs T","s3","s4","TEMs B","TEMs m","TEMs T","s5","s6","TEMRAs B","TEMRAs m","TEMRAs T"]}},
       "y":{"field":"v","type":"quantitative","scale":{"domain":[0,100]},"axis":{"title":"% CD4⁺CXCR3⁺ expression","values":[0,20,40,60,80,100],"labelOverlap":false}},
       "fill":{"field":"s","type":"nominal","scale":{"domain":["Blood","Tumor"],"range":["black","white"]},
        "legend":{"title":null,"orient":"none","legendX":17,"legendY":-2,"padding":0,"symbolType":"M-1.8,0H-0.6M0.6,0H1.8M0.6,0A0.6,0.6,0,1,1,-0.6,0A0.6,0.6,0,1,1,0.6,0Z","symbolSize":60,"symbolStrokeColor":"black","symbolStrokeWidth":1.2,"labelFontSize":11.5,"labelOffset":7,"rowPadding":3}},
       "size":{"condition":{"test":"datum.s == 'Blood'","value":8},"value":18}}},
     {"data":{"name":"PAIR_grp"},"mark":{"type":"rule","color":"black","strokeWidth":1.2},
      "encoding":{"x":{"field":"b","type":"nominal","scale":{"type":"point","domain":["TNs B","TNs m","TNs T","s1","s2","TCMs B","TCMs m","TCMs T","s3","s4","TEMs B","TEMs m","TEMs T","s5","s6","TEMRAs B","TEMRAs m","TEMRAs T"]}},"x2":{"field":"t"},
       "y":{"datum":-13.7,"type":"quantitative","scale":{"domain":[0,100]},"axis":{"title":"% CD4⁺CXCR3⁺ expression","values":[0,20,40,60,80,100],"labelOverlap":false}}}},
     {"data":{"name":"PAIR_grp"},"mark":{"type":"text","fontSize":11.5,"baseline":"middle"},
      "encoding":{"x":{"field":"m","type":"nominal","scale":{"type":"point","domain":["TNs B","TNs m","TNs T","s1","s2","TCMs B","TCMs m","TCMs T","s3","s4","TEMs B","TEMs m","TEMs T","s5","s6","TEMRAs B","TEMRAs m","TEMRAs T"]}},
       "y":{"datum":-20.3,"type":"quantitative","scale":{"domain":[0,100]},"axis":{"title":"% CD4⁺CXCR3⁺ expression","values":[0,20,40,60,80,100],"labelOverlap":false}},"text":{"field":"name"}}},
     {"data":{"name":"G_br"},"mark":{"type":"rule","color":"black","strokeWidth":1},
      "encoding":{"x":{"field":"from","type":"nominal","scale":{"type":"point","domain":["TNs B","TNs m","TNs T","s1","s2","TCMs B","TCMs m","TCMs T","s3","s4","TEMs B","TEMs m","TEMs T","s5","s6","TEMRAs B","TEMRAs m","TEMRAs T"]}},"x2":{"field":"to"},
       "y":{"field":"level","type":"quantitative","scale":{"domain":[0,100]},"axis":{"title":"% CD4⁺CXCR3⁺ expression","values":[0,20,40,60,80,100],"labelOverlap":false}}}},
     {"data":{"name":"G_br"},"transform":[{"fold":["from","to"],"as":["end","gg"]}],"mark":{"type":"tick","orient":"vertical","size":5,"thickness":1,"yOffset":2.5,"color":"black","opacity":1},
      "encoding":{"x":{"field":"gg","type":"nominal","scale":{"type":"point","domain":["TNs B","TNs m","TNs T","s1","s2","TCMs B","TCMs m","TCMs T","s3","s4","TEMs B","TEMs m","TEMs T","s5","s6","TEMRAs B","TEMRAs m","TEMRAs T"]}},
       "y":{"field":"level","type":"quantitative","scale":{"domain":[0,100]},"axis":{"title":"% CD4⁺CXCR3⁺ expression","values":[0,20,40,60,80,100],"labelOverlap":false}}}},
     {"data":{"name":"G_br"},"mark":{"type":"text","fontSize":10,"baseline":"bottom","dy":-2},
      "encoding":{"x":{"field":"mid","type":"nominal","scale":{"type":"point","domain":["TNs B","TNs m","TNs T","s1","s2","TCMs B","TCMs m","TCMs T","s3","s4","TEMs B","TEMs m","TEMs T","s5","s6","TEMRAs B","TEMRAs m","TEMRAs T"]}},
       "y":{"field":"level","type":"quantitative","scale":{"domain":[0,100]},"axis":{"title":"% CD4⁺CXCR3⁺ expression","values":[0,20,40,60,80,100],"labelOverlap":false}},"text":{"field":"label"}}}
    ]}
  ]}
 ]},
 {"resolve":{"scale":{"color":"independent","fill":"independent","size":"independent"},"legend":{"color":"independent","fill":"independent","size":"independent"}},
  "spacing":34,
  "vconcat":[
  {"resolve":{"scale":{"color":"independent","fill":"independent","size":"independent"},"legend":{"color":"independent","fill":"independent","size":"independent"}},
   "spacing":13.5,
   "vconcat":[
   {"title":{"text":"B","dx":-11,"offset":-14.5},
    "width":289,"height":187,
    "layer":[
     {"data":{"name":"B_pts"},"mark":{"type":"line","color":"black","strokeWidth":1},
      "encoding":{
       "x":{"field":"k","type":"nominal","scale":{"type":"point","domain":["TNs B","TNs m","TNs T","s1","s2","TCMs B","TCMs m","TCMs T","s3","s4","TEMs B","TEMs m","TEMs T","s5","s6","TEMRAs B","TEMRAs m","TEMRAs T"],"padding":1.85},
        "axis":{"title":"n","titleFontStyle":"italic","titleFontSize":12,"titleAngle":0,"titleX":-2,"titleY":23,"titleAlign":"left","titleBaseline":"middle","ticks":false,"labelAngle":0,"labelFontSize":10.5,"labelPadding":3,"labelLineHeight":15,"labelBaseline":"top","labelFlush":false,"labelBound":false,"labelOverlap":false,
         "labelExpr":"indexof(datum.value, ' B') > 0 ? ['B', '17'] : datum.value == 'TEMs T' ? ['T', '20'] : indexof(datum.value, ' T') > 0 ? ['T', '19'] : ''"}},
       "y":{"field":"v","type":"quantitative","scale":{"domain":[0,70],"nice":false},"axis":{"title":"% CD8⁺CCR6⁺ expression","values":[0,10,20,30,40,50,60,70],"labelOverlap":false}},
       "detail":{"field":"p"}}},
     {"data":{"name":"B_pts"},"mark":{"type":"point","shape":"circle","filled":true,"stroke":"black","strokeWidth":0.9,"opacity":1},
      "encoding":{
       "x":{"field":"k","type":"nominal","scale":{"type":"point","domain":["TNs B","TNs m","TNs T","s1","s2","TCMs B","TCMs m","TCMs T","s3","s4","TEMs B","TEMs m","TEMs T","s5","s6","TEMRAs B","TEMRAs m","TEMRAs T"]}},
       "y":{"field":"v","type":"quantitative","scale":{"domain":[0,70]},"axis":{"title":"% CD8⁺CCR6⁺ expression","values":[0,10,20,30,40,50,60,70],"labelOverlap":false}},
       "fill":{"field":"s","type":"nominal","scale":{"domain":["Blood","Tumor"],"range":["black","white"]},
        "legend":{"title":null,"orient":"none","legendX":230,"legendY":-10,"padding":0,"symbolType":"M-1.8,0H-0.6M0.6,0H1.8M0.6,0A0.6,0.6,0,1,1,-0.6,0A0.6,0.6,0,1,1,0.6,0Z","symbolSize":60,"symbolStrokeColor":"black","symbolStrokeWidth":1.2,"labelFontSize":11.5,"labelOffset":7,"rowPadding":5}},
       "size":{"condition":{"test":"datum.s == 'Blood'","value":8},"value":18}}},
     {"data":{"name":"PAIR_grp"},"mark":{"type":"rule","color":"black","strokeWidth":1.2},
      "encoding":{"x":{"field":"b","type":"nominal","scale":{"type":"point","domain":["TNs B","TNs m","TNs T","s1","s2","TCMs B","TCMs m","TCMs T","s3","s4","TEMs B","TEMs m","TEMs T","s5","s6","TEMRAs B","TEMRAs m","TEMRAs T"]}},"x2":{"field":"t"},
       "y":{"datum":-11.6,"type":"quantitative","scale":{"domain":[0,70]},"axis":{"title":"% CD8⁺CCR6⁺ expression","values":[0,10,20,30,40,50,60,70],"labelOverlap":false}}}},
     {"data":{"name":"PAIR_grp"},"mark":{"type":"text","fontSize":11.5,"baseline":"middle"},
      "encoding":{"x":{"field":"m","type":"nominal","scale":{"type":"point","domain":["TNs B","TNs m","TNs T","s1","s2","TCMs B","TCMs m","TCMs T","s3","s4","TEMs B","TEMs m","TEMs T","s5","s6","TEMRAs B","TEMRAs m","TEMRAs T"]}},
       "y":{"datum":-15.2,"type":"quantitative","scale":{"domain":[0,70]},"axis":{"title":"% CD8⁺CCR6⁺ expression","values":[0,10,20,30,40,50,60,70],"labelOverlap":false}},"text":{"field":"name"}}},
     {"data":{"name":"B_br"},"mark":{"type":"rule","color":"black","strokeWidth":1},
      "encoding":{"x":{"field":"from","type":"nominal","scale":{"type":"point","domain":["TNs B","TNs m","TNs T","s1","s2","TCMs B","TCMs m","TCMs T","s3","s4","TEMs B","TEMs m","TEMs T","s5","s6","TEMRAs B","TEMRAs m","TEMRAs T"]}},"x2":{"field":"to"},
       "y":{"field":"level","type":"quantitative","scale":{"domain":[0,70]},"axis":{"title":"% CD8⁺CCR6⁺ expression","values":[0,10,20,30,40,50,60,70],"labelOverlap":false}}}},
     {"data":{"name":"B_br"},"transform":[{"fold":["from","to"],"as":["end","gg"]}],"mark":{"type":"tick","orient":"vertical","size":5,"thickness":1,"yOffset":2.5,"color":"black","opacity":1},
      "encoding":{"x":{"field":"gg","type":"nominal","scale":{"type":"point","domain":["TNs B","TNs m","TNs T","s1","s2","TCMs B","TCMs m","TCMs T","s3","s4","TEMs B","TEMs m","TEMs T","s5","s6","TEMRAs B","TEMRAs m","TEMRAs T"]}},
       "y":{"field":"level","type":"quantitative","scale":{"domain":[0,70]},"axis":{"title":"% CD8⁺CCR6⁺ expression","values":[0,10,20,30,40,50,60,70],"labelOverlap":false}}}},
     {"data":{"name":"B_br"},"mark":{"type":"text","fontSize":10,"baseline":"bottom","dy":-2},
      "encoding":{"x":{"field":"mid","type":"nominal","scale":{"type":"point","domain":["TNs B","TNs m","TNs T","s1","s2","TCMs B","TCMs m","TCMs T","s3","s4","TEMs B","TEMs m","TEMs T","s5","s6","TEMRAs B","TEMRAs m","TEMRAs T"]}},
       "y":{"field":"level","type":"quantitative","scale":{"domain":[0,70]},"axis":{"title":"% CD8⁺CCR6⁺ expression","values":[0,10,20,30,40,50,60,70],"labelOverlap":false}},"text":{"field":"label"}}}
    ]},
   {"title":{"text":"D","dx":-10,"offset":-8.5},
    "resolve":{"scale":{"color":"independent","fill":"independent","size":"independent"},"legend":{"color":"independent","fill":"independent","size":"independent"}},
    "spacing":25,"bounds":"flush",
    "vconcat":[
     {"title":{"text":"% CD8⁺CCR6⁺ TEMs","fontSize":13,"fontWeight":"normal","anchor":"middle","frame":"group","offset":-4,"dx":-7},
      "width":280,"height":161,
      "layer":[
       {"data":{"values":[{}]},"mark":{"type":"rule","strokeDash":[6,4],"color":"black","strokeWidth":1.2},
        "encoding":{"x":{"datum":0,"type":"quantitative","scale":{"domain":[0,7]},"axis":{"title":null,"values":[0,1,2,3,4,5,6,7],"labelPadding":4,"labelOverlap":false}},"x2":{"datum":7},
         "y":{"datum":50,"type":"quantitative","scale":{"domain":[0,100]},"axis":{"title":"% Surviving patients","values":[0,10,20,30,40,50,60,70,80,90,100],"labelExpr":"datum.value % 20 == 0 ? datum.label : ''","labelOverlap":false}}}},
       {"data":{"name":"D_km"},"mark":{"type":"line","interpolate":"step-after","strokeWidth":1.4},
        "encoding":{
         "x":{"field":"t","type":"quantitative","scale":{"domain":[0,7],"nice":false},"axis":{"title":null,"values":[0,1,2,3,4,5,6,7],"labelPadding":4,"labelOverlap":false}},
         "y":{"field":"s","type":"quantitative","scale":{"domain":[0,100],"nice":false},"axis":{"title":"% Surviving patients","values":[0,10,20,30,40,50,60,70,80,90,100],"labelExpr":"datum.value % 20 == 0 ? datum.label : ''","labelOverlap":false}},
         "color":{"field":"g","type":"nominal","scale":{"domain":["Low","Mid","High"],"range":["black","#4a7fc1","#e3262b"]},"legend":null}}},
       {"data":{"name":"D_cens"},"mark":{"type":"circle","size":24,"opacity":1},
        "encoding":{"x":{"field":"t","type":"quantitative","scale":{"domain":[0,7]},"axis":{"title":null,"values":[0,1,2,3,4,5,6,7],"labelPadding":4,"labelOverlap":false}},
         "y":{"field":"s","type":"quantitative","scale":{"domain":[0,100]},"axis":{"title":"% Surviving patients","values":[0,10,20,30,40,50,60,70,80,90,100],"labelExpr":"datum.value % 20 == 0 ? datum.label : ''","labelOverlap":false}},
         "color":{"field":"g","type":"nominal","scale":{"domain":["Low","Mid","High"],"range":["black","#4a7fc1","#e3262b"]},"legend":null}}},
       {"data":{"values":[{}]},"mark":{"type":"text","fontSize":10,"align":"left","baseline":"top","lineHeight":13.3},
        "encoding":{"x":{"datum":2.46,"type":"quantitative","scale":{"domain":[0,7]},"axis":{"title":null,"values":[0,1,2,3,4,5,6,7],"labelPadding":4,"labelOverlap":false}},
         "y":{"datum":90.9,"type":"quantitative","scale":{"domain":[0,100]},"axis":{"title":"% Surviving patients","values":[0,10,20,30,40,50,60,70,80,90,100],"labelExpr":"datum.value % 20 == 0 ? datum.label : ''","labelOverlap":false}},
         "text":{"value":["Unadjusted LRT = 9.92, P = 0.0070","Stage-adjusted LRT = 7.50, P = 0.0235","Location-adjusted LRT = 6.93, P = 0.0313"]}}}
      ]},
     {"width":280,"height":33,
      "layer":[
       {"data":{"name":"D_risk"},"mark":{"type":"text","fontSize":11,"baseline":"middle"},
        "encoding":{
         "x":{"field":"t","type":"quantitative","scale":{"domain":[0,7],"nice":false},"axis":{"title":"Time from blood sampling (yr)","labels":false,"ticks":false,"domain":false,"titlePadding":4,"titleFontSize":13}},
         "y":{"field":"g","type":"nominal","scale":{"domain":["Low","Mid","High"]},"axis":{"title":"n","titleFontStyle":"italic","titleAngle":0,"titleFontSize":13,"titleX":-10,"titleY":16.5,"titleAlign":"center","titleBaseline":"middle","titlePadding":0,"labels":false,"ticks":false,"domain":true,"domainColor":"#7a7a7a","domainWidth":2,"offset":38}},
         "text":{"field":"n","type":"quantitative"}}},
       {"data":{"name":"D_risk"},"transform":[{"filter":"datum.t == 0"}],"mark":{"type":"text","fontSize":10.5,"align":"left","baseline":"middle"},
        "encoding":{
         "x":{"datum":-0.8,"type":"quantitative","scale":{"domain":[0,7]}},
         "y":{"field":"g","type":"nominal","scale":{"domain":["Low","Mid","High"]}},
         "text":{"field":"g"},
         "color":{"field":"g","type":"nominal","scale":{"domain":["Low","Mid","High"],"range":["black","#4a7fc1","#e3262b"]},"legend":null}}}
      ]}
    ]}
  ]},
  {"resolve":{"scale":{"color":"independent","fill":"independent","size":"independent"},"legend":{"color":"independent","fill":"independent","size":"independent"}},
   "spacing":50.5,
   "vconcat":[
   {"title":{"text":"F","dx":-20,"offset":-26},
    "width":297,"height":162,
    "layer":[
     {"data":{"name":"F_box"},"mark":{"type":"rule","color":"black","strokeWidth":1.3},
      "encoding":{
       "x":{"field":"g","type":"nominal","scale":{"type":"point","domain":["HVs","m1","Cut + LN","m2","Lung","m3","Multi","m4","Multi + lung"],"padding":1.1},
        "axis":{"title":"n","titleFontStyle":"italic","titleFontSize":12,"titleAngle":0,"titleX":2,"titleY":22,"titleAlign":"left","titleBaseline":"middle","ticks":false,"labelAngle":0,"labelFontSize":10.5,"labelPadding":4,"labelLineHeight":13,"labelBaseline":"top","labelFlush":false,"labelBound":false,"labelOverlap":false,
         "labelExpr":"datum.value == 'HVs' ? ['HVs', '24'] : datum.value == 'Cut + LN' ? ['Cut + LN', '10'] : datum.value == 'Lung' ? ['Lung', '11'] : datum.value == 'Multi' ? ['Multi', '10'] : datum.value == 'Multi + lung' ? ['Multi + lung', '26'] : ''"}},
       "y":{"field":"lo","type":"quantitative","scale":{"domain":[0,60],"nice":false},"axis":{"title":"% CD4⁺CXCR3⁺ TEMs","values":[0,10,20,30,40,50,60],"labelOverlap":false}},
       "y2":{"field":"hi"}}},
     {"data":{"name":"F_box"},"mark":{"type":"bar","width":52,"fill":"#e4e4e4","stroke":"black","strokeWidth":1.3},
      "encoding":{"x":{"field":"g","type":"nominal","scale":{"type":"point","domain":["HVs","m1","Cut + LN","m2","Lung","m3","Multi","m4","Multi + lung"]}},
       "y":{"field":"q1","type":"quantitative","scale":{"domain":[0,60]},"axis":{"title":"% CD4⁺CXCR3⁺ TEMs","values":[0,10,20,30,40,50,60],"labelOverlap":false}},"y2":{"field":"q3"}}},
     {"data":{"name":"F_box"},"mark":{"type":"tick","size":52,"thickness":1.5,"color":"black","opacity":1},
      "encoding":{"x":{"field":"g","type":"nominal","scale":{"type":"point","domain":["HVs","m1","Cut + LN","m2","Lung","m3","Multi","m4","Multi + lung"]}},
       "y":{"field":"med","type":"quantitative","scale":{"domain":[0,60]},"axis":{"title":"% CD4⁺CXCR3⁺ TEMs","values":[0,10,20,30,40,50,60],"labelOverlap":false}}}},
     {"data":{"name":"F_box"},"transform":[{"fold":["lo","hi"],"as":["end","val"]}],"mark":{"type":"tick","size":27,"thickness":1.5,"color":"black","opacity":1},
      "encoding":{"x":{"field":"g","type":"nominal","scale":{"type":"point","domain":["HVs","m1","Cut + LN","m2","Lung","m3","Multi","m4","Multi + lung"]}},
       "y":{"field":"val","type":"quantitative","scale":{"domain":[0,60]},"axis":{"title":"% CD4⁺CXCR3⁺ TEMs","values":[0,10,20,30,40,50,60],"labelOverlap":false}}}},
     {"data":{"name":"F_pts"},"mark":{"type":"circle","size":16,"color":"black","opacity":1},
      "encoding":{"x":{"field":"g","type":"nominal","scale":{"type":"point","domain":["HVs","m1","Cut + LN","m2","Lung","m3","Multi","m4","Multi + lung"]}},
       "y":{"field":"v","type":"quantitative","scale":{"domain":[0,60]},"axis":{"title":"% CD4⁺CXCR3⁺ TEMs","values":[0,10,20,30,40,50,60],"labelOverlap":false}}}},
     {"data":{"name":"F_br"},"mark":{"type":"rule","color":"black","strokeWidth":1},
      "encoding":{"x":{"field":"from","type":"nominal","scale":{"type":"point","domain":["HVs","m1","Cut + LN","m2","Lung","m3","Multi","m4","Multi + lung"]}},"x2":{"field":"to"},
       "y":{"field":"level","type":"quantitative","scale":{"domain":[0,60]},"axis":{"title":"% CD4⁺CXCR3⁺ TEMs","values":[0,10,20,30,40,50,60],"labelOverlap":false}}}},
     {"data":{"name":"F_br"},"transform":[{"fold":["from","to"],"as":["end","gg"]}],"mark":{"type":"tick","orient":"vertical","size":5,"thickness":1,"yOffset":2.5,"color":"black","opacity":1},
      "encoding":{"x":{"field":"gg","type":"nominal","scale":{"type":"point","domain":["HVs","m1","Cut + LN","m2","Lung","m3","Multi","m4","Multi + lung"]}},
       "y":{"field":"level","type":"quantitative","scale":{"domain":[0,60]},"axis":{"title":"% CD4⁺CXCR3⁺ TEMs","values":[0,10,20,30,40,50,60],"labelOverlap":false}}}},
     {"data":{"name":"F_br"},"mark":{"type":"text","fontSize":10,"baseline":"bottom","dy":-2},
      "encoding":{"x":{"field":"mid","type":"nominal","scale":{"type":"point","domain":["HVs","m1","Cut + LN","m2","Lung","m3","Multi","m4","Multi + lung"]}},
       "y":{"field":"level","type":"quantitative","scale":{"domain":[0,60]},"axis":{"title":"% CD4⁺CXCR3⁺ TEMs","values":[0,10,20,30,40,50,60],"labelOverlap":false}},"text":{"field":"label"}}}
    ]},
   {"title":{"text":"H","dx":-10,"offset":9},
    "resolve":{"scale":{"color":"independent","fill":"independent","size":"independent"},"legend":{"color":"independent","fill":"independent","size":"independent"}},
    "spacing":21,"bounds":"flush",
    "vconcat":[
     {"title":{"text":"% CD4⁺CXCR3⁺ TEMs","fontSize":13,"fontWeight":"normal","anchor":"middle","frame":"group","offset":0.5,"dx":-4.5},
      "width":281,"height":160,
      "layer":[
       {"data":{"values":[{}]},"mark":{"type":"rule","strokeDash":[6,4],"color":"black","strokeWidth":1.2},
        "encoding":{"x":{"datum":0,"type":"quantitative","scale":{"domain":[0,14]},"axis":{"title":null,"values":[0,2,4,6,8,10,12,14],"labelPadding":4,"labelOverlap":false}},"x2":{"datum":14},
         "y":{"datum":50,"type":"quantitative","scale":{"domain":[0,100]},"axis":{"title":"% Surviving patients","values":[0,10,20,30,40,50,60,70,80,90,100],"labelExpr":"datum.value % 20 == 0 ? datum.label : ''","labelOverlap":false}}}},
       {"data":{"name":"H_km"},"mark":{"type":"line","interpolate":"step-after","strokeWidth":1.4},
        "encoding":{
         "x":{"field":"t","type":"quantitative","scale":{"domain":[0,14],"nice":false},"axis":{"title":null,"values":[0,2,4,6,8,10,12,14],"labelPadding":4,"labelOverlap":false}},
         "y":{"field":"s","type":"quantitative","scale":{"domain":[0,100],"nice":false},"axis":{"title":"% Surviving patients","values":[0,10,20,30,40,50,60,70,80,90,100],"labelExpr":"datum.value % 20 == 0 ? datum.label : ''","labelOverlap":false}},
         "color":{"field":"g","type":"nominal","scale":{"domain":["Low","High"],"range":["black","#4a7fc1"]},"legend":null}}},
       {"data":{"name":"H_cens"},"mark":{"type":"circle","size":24,"opacity":1},
        "encoding":{"x":{"field":"t","type":"quantitative","scale":{"domain":[0,14]},"axis":{"title":null,"values":[0,2,4,6,8,10,12,14],"labelPadding":4,"labelOverlap":false}},
         "y":{"field":"s","type":"quantitative","scale":{"domain":[0,100]},"axis":{"title":"% Surviving patients","values":[0,10,20,30,40,50,60,70,80,90,100],"labelExpr":"datum.value % 20 == 0 ? datum.label : ''","labelOverlap":false}},
         "color":{"field":"g","type":"nominal","scale":{"domain":["Low","High"],"range":["black","#4a7fc1"]},"legend":null}}},
       {"data":{"values":[{}]},"mark":{"type":"text","fontSize":10,"align":"left","baseline":"top","lineHeight":14},
        "encoding":{"x":{"datum":4.83,"type":"quantitative","scale":{"domain":[0,14]},"axis":{"title":null,"values":[0,2,4,6,8,10,12,14],"labelPadding":4,"labelOverlap":false}},
         "y":{"datum":93.7,"type":"quantitative","scale":{"domain":[0,100]},"axis":{"title":"% Surviving patients","values":[0,10,20,30,40,50,60,70,80,90,100],"labelExpr":"datum.value % 20 == 0 ? datum.label : ''","labelOverlap":false}},
         "text":{"value":["Unadjusted LRT = 3.80, P = 0.0512","Stage-adjusted LRT = 6.30, P = 0.0121","Location-adjusted LRT = 6.27, P = 0.0123"]}}}
      ]},
     {"width":281,"height":22,
      "layer":[
       {"data":{"name":"H_risk"},"mark":{"type":"text","fontSize":11,"baseline":"middle"},
        "encoding":{
         "x":{"field":"t","type":"quantitative","scale":{"domain":[0,14],"nice":false},"axis":{"title":"Time from diagnosis (yr)","labels":false,"ticks":false,"domain":false,"titlePadding":3,"titleFontSize":13}},
         "y":{"field":"g","type":"nominal","scale":{"domain":["Low","High"]},"axis":{"title":"n","titleFontStyle":"italic","titleAngle":0,"titleFontSize":13,"titleX":-10,"titleY":11,"titleAlign":"center","titleBaseline":"middle","titlePadding":0,"labels":false,"ticks":false,"domain":true,"domainColor":"#7a7a7a","domainWidth":2,"offset":38}},
         "text":{"field":"n","type":"quantitative"}}},
       {"data":{"name":"H_risk"},"transform":[{"filter":"datum.t == 0"}],"mark":{"type":"text","fontSize":10.5,"align":"left","baseline":"middle"},
        "encoding":{
         "x":{"datum":-1.6,"type":"quantitative","scale":{"domain":[0,14]}},
         "y":{"field":"g","type":"nominal","scale":{"domain":["Low","High"]}},
         "text":{"field":"g"},
         "color":{"field":"g","type":"nominal","scale":{"domain":["Low","High"],"range":["black","#4a7fc1"]},"legend":null}}}
      ]}
    ]}
  ]}
 ]}
]
}
